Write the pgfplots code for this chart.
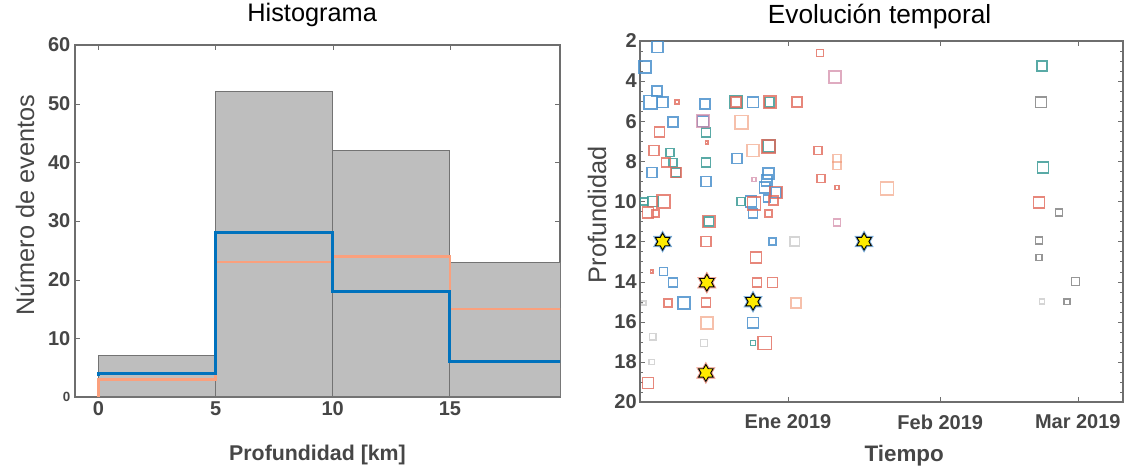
\documentclass[border=0pt]{standalone}
\usepackage{pgfplots}
\pgfplotsset{compat=1.18}
\usepackage{fontspec}
\setmainfont{Liberation Sans}
\setsansfont{Liberation Sans}

\definecolor{barfill}{RGB}{190,190,190}
\definecolor{baredge}{RGB}{115,115,115}
\definecolor{lblue}{RGB}{0,114,189}
\definecolor{lorange}{RGB}{250,160,125}
\definecolor{txtgray}{RGB}{70,70,70}
\definecolor{axgray}{RGB}{110,110,110}
\definecolor{cblue}{RGB}{75,145,205}
\definecolor{cteal}{RGB}{60,155,150}
\definecolor{cred}{RGB}{225,105,90}
\definecolor{csalmon}{RGB}{240,150,115}
\definecolor{cpink}{RGB}{210,135,165}
\definecolor{cgray}{RGB}{115,115,115}
\definecolor{staryellow}{RGB}{255,235,0}

\pgfdeclareplotmark{hexagram}{%
  \pgfpathmoveto{\pgfpointpolar{90}{\pgfplotmarksize}}%
  \pgfpathlineto{\pgfpointpolar{120}{0.577\pgfplotmarksize}}%
  \pgfpathlineto{\pgfpointpolar{150}{\pgfplotmarksize}}%
  \pgfpathlineto{\pgfpointpolar{180}{0.577\pgfplotmarksize}}%
  \pgfpathlineto{\pgfpointpolar{210}{\pgfplotmarksize}}%
  \pgfpathlineto{\pgfpointpolar{240}{0.577\pgfplotmarksize}}%
  \pgfpathlineto{\pgfpointpolar{270}{\pgfplotmarksize}}%
  \pgfpathlineto{\pgfpointpolar{300}{0.577\pgfplotmarksize}}%
  \pgfpathlineto{\pgfpointpolar{330}{\pgfplotmarksize}}%
  \pgfpathlineto{\pgfpointpolar{0}{0.577\pgfplotmarksize}}%
  \pgfpathlineto{\pgfpointpolar{30}{\pgfplotmarksize}}%
  \pgfpathlineto{\pgfpointpolar{60}{0.577\pgfplotmarksize}}%
  \pgfpathclose
  \pgfusepathqfillstroke}

\pgfplotstableread{
x y s
-26.5 2.3 4.1
-29.1 3.3 4.5
-26.7 4.5 3.75
-27.9 5.05 4.9
-25.5 5.05 4.1
-16.9 5.15 3.75
-7.1 5.05 4.1
-23.4 6.05 3.75
-17.3 6.0 4.1
-10.4 7.85 3.75
-27.7 8.55 3.75
-16.7 9.0 3.75
-3.9 8.6 4.1
-4.3 8.95 4.1
-4.7 9.3 4.1
-2.4 9.55 3.75
-4.3 9.85 2.6
-7.5 10.0 4.1
-7.1 10.6 3.4
-3.1 12.0 2.6
-25.3 13.5 3.0
-23.4 14.05 3.4
-21.2 15.05 4.5
-7.1 16.05 4.1
}\tblblue

\pgfplotstableread{
x y s
-10.6 5.05 4.5
-3.7 5.05 3.4
-16.7 6.55 3.4
-24.0 7.55 3.0
-3.9 7.25 4.5
-23.4 8.05 3.0
-16.7 8.05 3.4
-22.8 8.55 3.4
-29.3 10.0 2.6
-27.5 10.0 3.75
-9.6 10.0 3.0
-7.1 17.05 1.9
-16.1 11.0 3.4
51.7 3.25 3.75
51.9 8.3 4.1
}\tblteal

\pgfplotstableread{
x y s
-22.6 5.05 1.5
-3.7 5.05 4.5
1.8 5.05 3.75
-10.6 5.05 3.75
-26.1 6.55 3.75
-16.5 7.05 1.1
-27.3 7.45 3.75
-3.9 7.25 4.9
-24.8 8.05 3.4
-22.8 8.55 3.75
-2.4 9.55 4.5
-2.9 9.95 3.4
-25.3 10.0 4.9
-28.5 10.55 4.1
-26.9 10.6 2.6
-6.9 10.1 4.9
-3.9 10.6 2.6
-16.1 11.0 4.5
-16.7 12.0 3.75
-6.5 12.8 4.1
-27.7 13.5 1.1
-6.3 14.05 3.4
-3.1 14.05 3.75
-24.4 15.05 3.0
-16.7 15.05 3.4
-4.7 17.05 4.9
-28.5 19.05 4.1
6.5 2.6 2.6
6.1 7.45 3.0
6.7 8.85 3.0
10.0 9.3 1.5
51.1 10.05 4.1
}\tblred

\pgfplotstableread{
x y s
-9.4 6.05 4.9
-7.1 7.45 4.5
1.6 15.05 3.75
-16.5 16.05 4.5
10.0 7.85 3.0
10.0 8.2 3.0
20.2 9.35 4.9
}\tblsalmon

\pgfplotstableread{
x y s
-17.3 6.0 4.5
-6.9 8.9 1.5
9.6 3.8 4.5
10.0 11.05 2.6
}\tblpink

\pgfplotstableread{
x y s
51.5 5.05 4.1
51.1 11.95 2.6
51.1 12.8 2.2
58.5 14.0 3.0
56.8 15.0 2.2
55.2 10.55 2.6
}\tblgray

\pgfplotstableread{
x y s
1.4 12.0 3.4
-29.3 15.05 1.5
-27.5 16.75 2.6
-17.1 17.05 2.6
-27.7 18.0 1.9
51.7 15.0 1.9
}\tblfaint

\pgfplotsset{
  sq/.style={scatter, only marks, mark=square,
    scatter/use mapped color={draw=#1, fill=none},
    visualization depends on={\thisrow{s} \as \msz},
    scatter/@pre marker code/.append style={/tikz/mark size=\msz},
    line width=1.2pt},
}

\begin{document}
\begin{tikzpicture}
\useasboundingbox (-56.25pt,-53.25pt) rectangle (794.25pt,297.75pt);

% ---------------- Histogram ----------------
\begin{axis}[
  at={(0pt,0pt)}, anchor=south west,
  scale only axis, width=363.75pt, height=264pt,
  xmin=-1, xmax=19.7, ymin=0, ymax=60,
  xtick={0,5,10,15}, ytick={0,10,20,30,40,50,60},
  yticklabels={{\fontsize{10}{10}\selectfont 0},10,20,30,40,50,60},
  tick align=inside, major tick length=4pt,
  axis line style={axgray, line width=0.8pt},
  tick style={axgray},
  /pgf/number format/assume math mode=true,
  ticklabel style={font=\bfseries\fontsize{15}{15}\selectfont, text=txtgray},
  title={Histograma},
  title style={at={(axis description cs:0.489,1.0625)}, anchor=center,
    font=\fontsize{19}{19}\selectfont, text=black},
  xlabel={Profundidad [km]},
  xlabel style={at={(axis description cs:0.5,-0.165)}, anchor=center,
    font=\bfseries\fontsize{16}{16}\selectfont, text=txtgray},
  ylabel={Número de eventos},
  ylabel style={at={(axis description cs:-0.103,0.545)}, anchor=center,
    font=\fontsize{19}{19}\selectfont, text=txtgray},
]
\addplot[ybar interval, fill=barfill, draw=baredge, line width=0.8pt]
  coordinates {(0,7) (5,52) (10,42) (15,23) (20,23)};
\addplot[const plot, draw=lorange, line width=2pt]
  coordinates {(0,0) (0,3) (5,23) (10,24) (15,15) (20,15)};
\addplot[const plot, draw=lblue, line width=2.4pt]
  coordinates {(0,3.5) (0,4) (5,28) (10,18) (15,6) (20,6)};
\end{axis}

% ---------------- Time evolution ----------------
\begin{axis}[
  at={(423.75pt,-3.75pt)}, anchor=south west,
  scale only axis, width=362.25pt, height=270.75pt,
  xmin=-30.1, xmax=68.2, ymin=2, ymax=20, y dir=reverse,
  xtick={0,31,59}, xticklabels={Ene 2019, Feb 2019, Mar 2019},
  ytick={2,4,...,20}, minor y tick num=3,
  tick align=inside, major tick length=4pt, minor tick length=2.5pt,
  axis line style={axgray, line width=0.8pt},
  tick style={axgray},
  /pgf/number format/assume math mode=true,
  ticklabel style={font=\bfseries\fontsize{15}{15}\selectfont, text=txtgray},
  yticklabel style={xshift=1pt},
  xticklabel style={yshift=-6pt},
  title={Evolución temporal},
  title style={at={(axis description cs:0.496,1.0443)}, anchor=center,
    font=\fontsize{19.7}{19.7}\selectfont, text=black},
  xlabel={Tiempo},
  xlabel style={at={(axis description cs:0.547,-0.1496)}, anchor=center,
    font=\bfseries\fontsize{16.8}{16.8}\selectfont, text=txtgray},
  ylabel={Profundidad},
  ylabel style={at={(axis description cs:-0.089,0.518)}, anchor=center,
    font=\fontsize{19}{19}\selectfont, text=txtgray},
]
\addplot[sq=cgray, opacity=0.3] table {\tblfaint};
\addplot[sq=cblue, opacity=0.85] table {\tblblue};
\addplot[sq=cteal, opacity=0.85] table {\tblteal};
\addplot[sq=cred, opacity=0.8] table {\tblred};
\addplot[sq=csalmon, opacity=0.6] table {\tblsalmon};
\addplot[sq=cpink, opacity=0.7] table {\tblpink};
\addplot[sq=cgray, opacity=0.75] table {\tblgray};
% stars: halos
\addplot[only marks, mark=hexagram, mark size=8pt,
  mark options={fill=cblue, draw=cblue, opacity=0.6}]
  coordinates {(-25.5,12) (-7.1,15) (15.5,12)};
\addplot[only marks, mark=hexagram, mark size=8pt,
  mark options={fill=csalmon, draw=cred, opacity=0.6}]
  coordinates {(-16.5,14.05) (-16.7,18.55)};
\addplot[only marks, mark=hexagram, mark size=6.3pt,
  mark options={fill=staryellow, draw=black, line width=0.7pt}]
  coordinates {(-25.5,12) (-7.1,15) (15.5,12) (-16.5,14.05) (-16.7,18.55)};
\end{axis}
\end{tikzpicture}
\end{document}
